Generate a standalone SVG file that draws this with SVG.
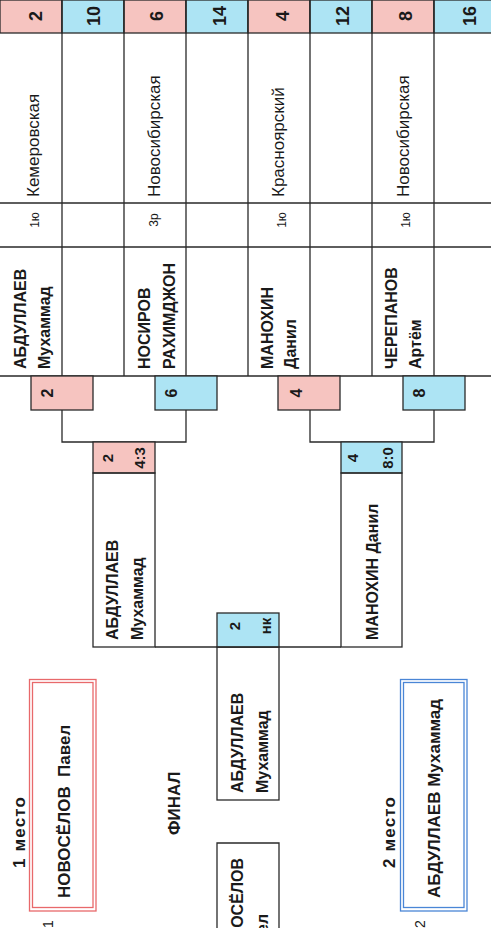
<svg xmlns="http://www.w3.org/2000/svg" width="491" height="928" viewBox="0 0 491 928">
<style>
.ln{stroke:#2a2a2a;stroke-width:1.3;fill:none}
.pk{fill:#f6c4c0;stroke:#2a2a2a;stroke-width:1.3}
.bl{fill:#ade4f4;stroke:#2a2a2a;stroke-width:1.3}
.cell{fill:none;stroke:#2a2a2a;stroke-width:1.3}
text{font-family:"Liberation Sans",Arial,sans-serif;fill:#1a1a1a}
.hn{font-size:18px;font-weight:bold;text-anchor:middle}
.city{font-size:17px}
.rk{font-size:12px;text-anchor:middle}
.nm{font-size:16px;font-weight:bold}
.sd{font-size:16px;font-weight:bold;text-anchor:middle}
.sc{font-size:15px;font-weight:bold;text-anchor:middle}
.big{font-size:17px;font-weight:bold}
.sm{font-size:14px}
</style>
<rect width="491" height="928" fill="#ffffff"/>

<g id="table">
  <rect class="pk" x="0" y="0" width="62" height="33"/>
  <rect class="bl" x="62" y="0" width="62" height="33"/>
  <rect class="pk" x="124" y="0" width="62" height="33"/>
  <rect class="bl" x="186" y="0" width="62" height="33"/>
  <rect class="pk" x="248" y="0" width="62" height="33"/>
  <rect class="bl" x="310" y="0" width="62" height="33"/>
  <rect class="pk" x="372" y="0" width="62" height="33"/>
  <rect class="bl" x="434" y="0" width="62" height="33"/>
  <path class="ln" d="M0 203H491M0 247H491M0 376H491M62 0V376M124 0V376M186 0V376M248 0V376M310 0V376M372 0V376M434 0V376"/>
  <g class="hn">
    <text transform="translate(42,16) rotate(-90)">2</text>
    <text transform="translate(100,16) rotate(-90)">10</text>
    <text transform="translate(163,16) rotate(-90)">6</text>
    <text transform="translate(226,16) rotate(-90)">14</text>
    <text transform="translate(289,16) rotate(-90)">4</text>
    <text transform="translate(349,16) rotate(-90)">12</text>
    <text transform="translate(412,16) rotate(-90)">8</text>
    <text transform="translate(476,16) rotate(-90)">16</text>
  </g>
</g>

<g id="p2">
  <text class="city" transform="translate(39,197) rotate(-90)">Кемеровская</text>
  <text class="rk" transform="translate(39,220) rotate(-90)">1ю</text>
  <text class="nm" transform="translate(26,369) rotate(-90)">АБДУЛЛАЕВ</text>
  <text class="nm" transform="translate(50,369) rotate(-90)">Мухаммад</text>
  <rect class="pk" x="31" y="376" width="62" height="34"/>
  <text class="sd" transform="translate(53,393) rotate(-90)">2</text>
</g>
<g id="p6">
  <text class="city" transform="translate(160,197) rotate(-90)">Новосибирская</text>
  <text class="rk" transform="translate(158,220) rotate(-90)">3р</text>
  <text class="nm" transform="translate(150,369) rotate(-90)">НОСИРОВ</text>
  <text class="nm" transform="translate(175,369) rotate(-90)">РАХИМДЖОН</text>
  <rect class="bl" x="155" y="376" width="62" height="34"/>
  <text class="sd" transform="translate(177,393) rotate(-90)">6</text>
</g>
<g id="p4">
  <text class="city" transform="translate(284,197) rotate(-90)">Красноярский</text>
  <text class="rk" transform="translate(286,220) rotate(-90)">1ю</text>
  <text class="nm" transform="translate(273,369) rotate(-90)">МАНОХИН</text>
  <text class="nm" transform="translate(296,369) rotate(-90)">Данил</text>
  <rect class="pk" x="278" y="376" width="62" height="34"/>
  <text class="sd" transform="translate(302,393) rotate(-90)">4</text>
</g>
<g id="p8">
  <text class="city" transform="translate(409,197) rotate(-90)">Новосибирская</text>
  <text class="rk" transform="translate(410,220) rotate(-90)">1ю</text>
  <text class="nm" transform="translate(397,369) rotate(-90)">ЧЕРЕПАНОВ</text>
  <text class="nm" transform="translate(421,369) rotate(-90)">Артём</text>
  <rect class="bl" x="403" y="376" width="62" height="34"/>
  <text class="sd" transform="translate(425,393) rotate(-90)">8</text>
</g>

<g id="connectors">
  <path class="ln" d="M62 410V442H186V410"/>
  <path class="ln" d="M310 410V442H434V410"/>
  <path class="ln" d="M155 647H341"/>
</g>

<g id="sf1">
  <rect class="pk" x="93" y="442" width="62" height="31"/>
  <text class="sc" transform="translate(113,458) rotate(-90)">2</text>
  <text class="sc" transform="translate(145,458) rotate(-90)">4:3</text>
  <rect class="cell" x="93" y="473" width="62" height="174"/>
  <text class="nm" transform="translate(118,640) rotate(-90)">АБДУЛЛАЕВ</text>
  <text class="nm" transform="translate(143,640) rotate(-90)">Мухаммад</text>
</g>
<g id="sf2">
  <rect class="bl" x="341" y="442" width="61" height="31"/>
  <text class="sc" transform="translate(358,458) rotate(-90)">4</text>
  <text class="sc" transform="translate(393,458) rotate(-90)">8:0</text>
  <rect class="cell" x="341" y="473" width="61" height="174"/>
  <text class="nm" transform="translate(378,640) rotate(-90)">МАНОХИН Данил</text>
</g>
<g id="final">
  <rect class="bl" x="217" y="613" width="62" height="34"/>
  <text class="sc" transform="translate(240,626) rotate(-90)">2</text>
  <text class="sc" transform="translate(271,626) rotate(-90)">нк</text>
  <rect class="cell" x="217" y="647" width="62" height="153"/>
  <text class="nm" transform="translate(243,793) rotate(-90)">АБДУЛЛАЕВ</text>
  <text class="nm" transform="translate(268,793) rotate(-90)">Мухаммад</text>
</g>
<g id="finalist">
  <path class="ln" d="M217 940V843H279V940"/>
  <text class="nm" transform="translate(243,963) rotate(-90)">НОВОСЁЛОВ</text>
  <text class="nm" transform="translate(268,963) rotate(-90)">Павел</text>
</g>
<text class="big" transform="translate(180,835) rotate(-90)">ФИНАЛ</text>

<g id="place1">
  <rect x="29.5" y="679.5" width="66.5" height="231.5" fill="none" stroke="#e8696b" stroke-width="1.3"/>
  <rect x="32.5" y="682.5" width="60.5" height="225" fill="none" stroke="#e8696b" stroke-width="1.3"/>
  <text class="big" transform="translate(25,868) rotate(-90)" textLength="71">1 место</text>
  <text class="big" transform="translate(70,898) rotate(-90)" xml:space="preserve">НОВОСЁЛОВ  Павел</text>
  <text class="sm" transform="translate(53,928) rotate(-90)">1</text>
</g>
<g id="place2">
  <rect x="400.5" y="679.5" width="66.5" height="231.5" fill="none" stroke="#4a86d6" stroke-width="1.3"/>
  <rect x="403.5" y="682.5" width="60.5" height="225" fill="none" stroke="#4a86d6" stroke-width="1.3"/>
  <text class="big" transform="translate(395,868) rotate(-90)" textLength="71">2 место</text>
  <text class="big" transform="translate(440,898) rotate(-90)">АБДУЛЛАЕВ Мухаммад</text>
  <text class="sm" transform="translate(425,928) rotate(-90)">2</text>
</g>
</svg>
